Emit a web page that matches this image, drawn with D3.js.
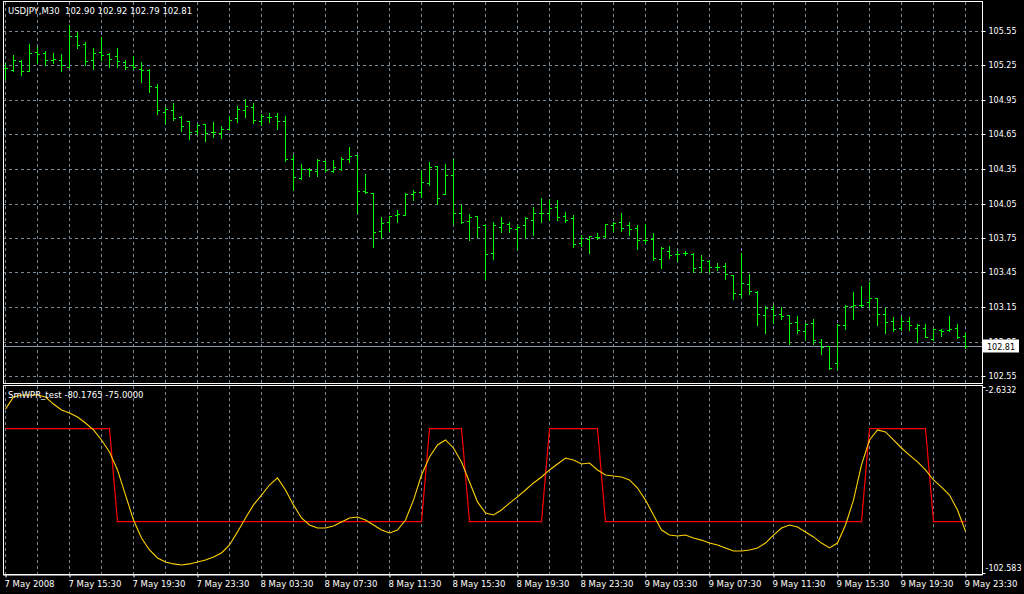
<!DOCTYPE html>
<html><head><meta charset="utf-8">
<script src="https://cdn.jsdelivr.net/npm/d3@7"></script>
<style>
body{margin:0;background:#000}
svg{display:block}
text{font-family:"DejaVu Sans",Verdana,sans-serif;font-size:8.5px}
</style>
</head><body>
<svg id="c" width="1024" height="594"></svg>
<script>
const symbol = "USDJPY,M30";
const indicatorName = "SmWPR_test";
const opens = [105.23,105.21,105.29,105.20,105.37,105.36,105.30,105.30,105.24,105.51,
105.44,105.30,105.37,105.35,105.33,105.28,105.25,105.22,105.21,105.06,
104.85,104.86,104.80,104.77,104.68,104.74,104.67,104.66,104.70,104.79,
104.86,104.89,104.77,104.80,104.81,104.77,104.44,104.27,104.35,104.33,
104.42,104.33,104.35,104.44,104.47,104.16,104.14,103.81,103.89,103.95,
103.95,104.13,104.15,104.23,104.38,104.13,104.30,103.97,103.90,103.94,
103.86,103.62,103.85,103.87,103.83,103.86,103.91,103.97,103.97,104.02,
103.94,103.92,103.71,103.74,103.76,103.77,103.86,103.89,103.86,103.84,
103.73,103.74,103.57,103.64,103.61,103.62,103.61,103.50,103.55,103.50,
103.51,103.43,103.26,103.35,103.28,103.08,103.13,103.09,103.08,103.02,
102.94,103.01,102.85,102.81,102.66,102.99,103.16,103.17,103.19,103.23,
103.09,103.03,102.97,103.03,102.97,102.97,102.87,102.95,102.95,102.97,
102.90];
const highs = [105.27,105.34,105.30,105.44,105.41,105.38,105.36,105.35,105.60,105.54,
105.45,105.40,105.50,105.36,105.40,105.30,105.33,105.28,105.22,105.09,
104.89,104.92,104.81,104.77,104.74,104.74,104.76,104.72,104.81,104.90,
104.96,104.92,104.83,104.84,104.84,104.81,104.47,104.39,104.36,104.44,
104.42,104.43,104.45,104.54,104.47,104.31,104.14,103.93,103.94,103.99,
104.14,104.17,104.34,104.41,104.38,104.39,104.44,104.04,103.96,103.94,
103.86,103.89,103.93,103.89,103.86,103.93,104.02,104.10,104.09,104.08,
103.98,103.95,103.78,103.77,103.79,103.87,103.89,103.97,103.89,103.86,
103.87,103.79,103.67,103.68,103.64,103.64,103.62,103.60,103.56,103.53,
103.53,103.43,103.62,103.44,103.29,103.16,103.17,103.15,103.08,103.07,
103.01,103.05,102.87,102.81,103.00,103.17,103.28,103.33,103.37,103.23,
103.14,103.06,103.06,103.06,103.00,103.00,102.96,102.96,103.07,103.00,
102.92];
const lows = [105.13,105.20,105.17,105.20,105.27,105.25,105.27,105.20,105.24,105.40,
105.25,105.22,105.30,105.24,105.24,105.22,105.22,105.11,105.02,104.83,
104.75,104.78,104.68,104.61,104.65,104.59,104.63,104.62,104.70,104.76,
104.80,104.75,104.73,104.76,104.70,104.42,104.17,104.26,104.29,104.29,
104.33,104.32,104.34,104.41,103.97,104.14,103.67,103.75,103.81,103.89,
103.95,104.08,104.11,104.21,104.05,104.13,103.87,103.88,103.73,103.76,
103.39,103.57,103.80,103.80,103.65,103.75,103.78,103.89,103.91,103.91,
103.89,103.67,103.68,103.62,103.74,103.76,103.81,103.81,103.78,103.65,
103.71,103.56,103.49,103.58,103.55,103.60,103.45,103.45,103.45,103.47,
103.39,103.22,103.24,103.26,102.99,102.92,103.01,103.05,102.83,102.92,
102.87,102.83,102.74,102.61,102.61,102.96,103.05,103.15,103.15,102.99,
102.92,102.94,102.95,102.95,102.85,102.89,102.86,102.90,102.94,102.88,
102.79];
const closes = [105.23,105.30,105.20,105.36,105.35,105.30,105.31,105.25,105.51,105.43,
105.29,105.36,105.34,105.31,105.29,105.24,105.24,105.21,105.07,104.86,
104.87,104.79,104.72,104.67,104.73,104.66,104.67,104.70,104.78,104.87,
104.90,104.78,104.81,104.80,104.77,104.44,104.28,104.35,104.34,104.43,
104.34,104.37,104.44,104.46,104.16,104.15,103.80,103.88,103.94,103.96,
104.13,104.15,104.24,104.37,104.10,104.30,103.97,103.89,103.93,103.85,
103.61,103.86,103.88,103.84,103.85,103.92,103.97,103.97,104.01,103.93,
103.91,103.70,103.75,103.77,103.76,103.87,103.88,103.84,103.83,103.73,
103.73,103.58,103.66,103.60,103.61,103.62,103.49,103.56,103.50,103.50,
103.44,103.27,103.36,103.29,103.09,103.14,103.08,103.07,103.01,102.95,
103.00,102.86,102.80,102.62,102.99,103.16,103.17,103.17,103.23,103.09,
103.02,102.96,103.03,102.99,102.99,102.89,102.96,102.94,102.96,102.89,
102.81];
const smwpr = [-14.5,-8.0,-6.9,-6.9,-6.9,-8.0,-11.8,-15.0,-16.6,-18.8,
-22.0,-25.7,-31.1,-37.6,-47.2,-60.7,-74.1,-83.8,-90.2,-94.5,
-96.7,-97.7,-98.3,-97.7,-96.7,-95.6,-94.0,-91.8,-87.5,-80.5,
-73.0,-66.0,-60.7,-55.3,-51.5,-58.0,-66.0,-73.0,-76.8,-78.4,
-78.4,-77.3,-75.2,-73.0,-72.5,-74.1,-76.8,-79.5,-81.1,-79.5,
-74.1,-63.4,-49.9,-40.2,-33.8,-31.1,-35.4,-42.9,-53.7,-64.4,
-70.3,-71.4,-68.7,-65.0,-61.7,-58.0,-54.2,-51.0,-47.2,-44.0,
-40.8,-41.9,-44.0,-43.5,-47.2,-49.9,-50.5,-51.0,-52.6,-56.9,
-63.4,-71.4,-79.5,-82.2,-82.7,-82.2,-83.8,-84.9,-86.5,-87.5,
-89.1,-90.8,-90.8,-90.2,-89.1,-86.5,-82.2,-78.4,-76.8,-77.9,
-80.5,-83.2,-86.5,-89.1,-86.5,-76.8,-63.4,-44.5,-31.1,-25.7,
-26.8,-31.1,-35.4,-39.2,-42.9,-47.2,-52.6,-56.4,-60.7,-68.7,
-80.1765];
const signal = [-25,-25,-25,-25,-25,-25,-25,-25,-25,-25,
-25,-25,-25,-25,-75,-75,-75,-75,-75,-75,
-75,-75,-75,-75,-75,-75,-75,-75,-75,-75,
-75,-75,-75,-75,-75,-75,-75,-75,-75,-75,
-75,-75,-75,-75,-75,-75,-75,-75,-75,-75,
-75,-75,-75,-25,-25,-25,-25,-25,-75,-75,
-75,-75,-75,-75,-75,-75,-75,-75,-25,-25,
-25,-25,-25,-25,-25,-75,-75,-75,-75,-75,
-75,-75,-75,-75,-75,-75,-75,-75,-75,-75,
-75,-75,-75,-75,-75,-75,-75,-75,-75,-75,
-75,-75,-75,-75,-75,-75,-75,-75,-25,-25,
-25,-25,-25,-25,-25,-25,-75,-75,-75,-75,
-75];
const priceTicks = [105.55,105.25,104.95,104.65,104.35,104.05,103.75,103.45,103.15,102.85,102.55];
const indTicks = [-2.6332,-102.583];
const indTickLabels = ["-2.6332","-102.583"];
const timeLabels = ["7 May 2008","7 May 15:30","7 May 19:30","7 May 23:30","8 May 03:30","8 May 07:30",
"8 May 11:30","8 May 15:30","8 May 19:30","8 May 23:30","9 May 03:30","9 May 07:30",
"9 May 11:30","9 May 15:30","9 May 19:30","9 May 23:30"];

const svg = d3.select("#c");
svg.append("rect").attr("width",1024).attr("height",594).attr("fill","#000");

const n = closes.length;
const x = d3.scaleLinear().domain([0, n-1]).range([5.5, 965.5]);
const y = d3.scaleLinear().domain([102.55, 105.55]).range([376.5, 31.5]);
const yi = d3.scaleLinear().domain([-102.583, -2.6332]).range([573, 387]);
const snap = v => Math.round(v - 0.5) + 0.5;

const gridColor = "#778899";
const defs = svg.append("defs");
defs.append("clipPath").attr("id","cm").append("rect").attr("x",4).attr("y",2).attr("width",978).attr("height",381);
defs.append("clipPath").attr("id","ci").append("rect").attr("x",4).attr("y",386).attr("width",978).attr("height",188);

// grids
const gMain = svg.append("g").attr("clip-path","url(#cm)");
const gInd = svg.append("g").attr("clip-path","url(#ci)");
const vIdx = d3.range(0, n, 4);
gMain.selectAll("line.h").data(priceTicks).join("line")
  .attr("x1",3).attr("x2",982).attr("y1",d=>snap(y(d))).attr("y2",d=>snap(y(d)))
  .attr("stroke",gridColor).attr("stroke-dasharray","3,3");
gMain.selectAll("line.v").data(vIdx).join("line")
  .attr("x1",d=>x(d)).attr("x2",d=>x(d)).attr("y1",2).attr("y2",383)
  .attr("stroke",gridColor).attr("stroke-dasharray","3,3");
gInd.selectAll("line.v").data(vIdx).join("line")
  .attr("x1",d=>x(d)).attr("x2",d=>x(d)).attr("y1",386).attr("y2",574)
  .attr("stroke",gridColor).attr("stroke-dasharray","3,3");

// current price line
gMain.append("line").attr("x1",3).attr("x2",982)
  .attr("y1",snap(y(closes[n-1]))).attr("y2",snap(y(closes[n-1])))
  .attr("stroke","#8c9aaa").attr("stroke-width",1);

// OHLC bars
const bars = gMain.selectAll("g.bar").data(d3.range(n)).join("g")
  .attr("stroke","#00ff00").attr("stroke-width",1).attr("shape-rendering","crispEdges");
bars.append("line").attr("x1",i=>x(i)).attr("x2",i=>x(i))
  .attr("y1",i=>snap(y(highs[i]))-0.5).attr("y2",i=>snap(y(lows[i]))+0.5);
bars.append("line").attr("x1",i=>x(i)-2.5).attr("x2",i=>x(i))
  .attr("y1",i=>snap(y(opens[i]))).attr("y2",i=>snap(y(opens[i])));
bars.append("line").attr("x1",i=>x(i)).attr("x2",i=>x(i)+2.5)
  .attr("y1",i=>snap(y(closes[i]))).attr("y2",i=>snap(y(closes[i])));

// indicator lines
const idx = d3.range(n);
gInd.append("path").datum(idx)
  .attr("d", d3.line().x(i=>x(i)).y(i=>yi(signal[i])))
  .attr("fill","none").attr("stroke","#ff0000").attr("stroke-width",1.2);
gInd.append("path").datum(idx)
  .attr("d", d3.line().x(i=>x(i)).y(i=>yi(smwpr[i])))
  .attr("fill","none").attr("stroke","#ffd200").attr("stroke-width",1.1);

// frames
svg.append("rect").attr("x",3.5).attr("y",1.5).attr("width",979).attr("height",382)
  .attr("fill","none").attr("stroke","#fff");
svg.append("rect").attr("x",3.5).attr("y",385.5).attr("width",979).attr("height",189)
  .attr("fill","none").attr("stroke","#fff");

// price axis
const pa = svg.append("g").attr("transform","translate(982.5,0)")
  .call(d3.axisRight(y).tickValues(priceTicks).tickSize(3).tickPadding(3).tickFormat(d3.format(".2f")));
pa.select(".domain").remove();
pa.selectAll(".tick").attr("transform", d=>`translate(0,${snap(y(d))})`);
pa.selectAll("line").attr("stroke","#fff");
pa.selectAll("text").attr("fill","#fff").style("font-family","DejaVu Sans").style("font-size","8px");

// current price label
const cy = snap(y(closes[n-1]));
svg.append("rect").attr("x",983).attr("y",cy-7).attr("width",36).attr("height",13).attr("fill","#fff");
svg.append("text").attr("x",987).attr("y",cy+3.5).attr("fill","#000").style("font-size","8px")
  .text(d3.format(".2f")(closes[n-1]));

// indicator axis
const ia = svg.append("g").attr("transform","translate(982.5,0)")
  .call(d3.axisRight(yi).tickValues(indTicks).tickSize(3).tickPadding(0).tickFormat((d,i)=>indTickLabels[i]));
ia.select(".domain").remove();
ia.selectAll("line").attr("stroke","#fff");
ia.selectAll("text").attr("fill","#fff").style("font-family","DejaVu Sans").style("font-size","8px")
  .attr("dy",(d,i)=> i===0 ? "5px" : "-3px");

// time axis
const ta = svg.append("g").attr("transform","translate(0,574.5)")
  .call(d3.axisBottom(x).tickValues(d3.range(0, n, 8)).tickSize(3).tickPadding(3).tickFormat((d,i)=>timeLabels[i]));
ta.select(".domain").attr("stroke","#fff").attr("d","M3,0.5H982.5");
ta.selectAll("line").attr("stroke","#fff");
ta.selectAll("text").attr("fill","#fff").attr("text-anchor","start").attr("x",-1.5)
  .style("font-family","DejaVu Sans").style("font-size","8.5px");

// titles
svg.append("text").attr("x",8).attr("y",14).attr("fill","#fff").style("white-space","pre")
  .text(`${symbol}  ${opens[n-1].toFixed(2)} ${highs[n-1].toFixed(2)} ${lows[n-1].toFixed(2)} ${closes[n-1].toFixed(2)}`);
svg.append("text").attr("x",8).attr("y",397.5).attr("fill","#fff").style("white-space","pre")
  .text(`${indicatorName} ${smwpr[n-1].toFixed(4)} ${signal[n-1].toFixed(4)}`);
</script>
</body></html>
